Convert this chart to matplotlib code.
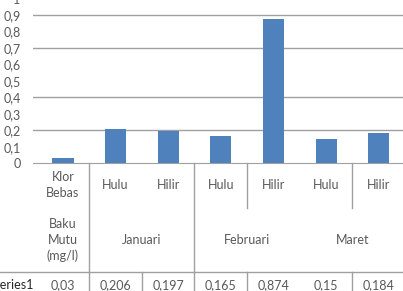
import numpy as np
import matplotlib.pyplot as plt
from matplotlib.lines import Line2D

# chart data
row1_labels = ['Klor\nBebas', 'Hulu', 'Hilir', 'Hulu', 'Hilir', 'Hulu', 'Hilir']
row2_labels = ['Baku\nMutu\n(mg/l)', 'Januari', 'Februari', 'Maret']
series_name = 'Series1'
values = [0.03, 0.206, 0.197, 0.165, 0.874, 0.15, 0.184]
value_text = ['0,03', '0,206', '0,197', '0,165', '0,874', '0,15', '0,184']
yticks = np.round(np.arange(0, 1.01, 0.1), 1)
ytick_labels = ['0' if t == 0 else ('1' if t == 1 else ('%.1f' % t).replace('.', ',')) for t in yticks]
grid_levels = [0.2, 0.4, 0.7, 0.9]

W, H = 403, 291
txt = '#595959'
line_c = '#a0a0a0'
fs = 9
plt.rcParams['font.family'] = ['Lato', 'DejaVu Sans']

fig = plt.figure(figsize=(W / 100, H / 100), dpi=100)
ax = fig.add_axes([33 / W, (H - 163.3) / H, (405 - 33) / W, 164.8 / H])

x = np.arange(len(values)) + 0.5
ax.bar(x, values, width=0.4, color='#4f81bd', zorder=3)
ax.set_xlim(-0.07, len(values))
ax.set_ylim(0, 1)
for g in grid_levels:
    ax.axhline(g, color=line_c, lw=1, zorder=1)

ax.set_yticks(yticks)
ax.set_yticklabels(ytick_labels, fontsize=fs, color=txt)
ax.tick_params(axis='y', length=0, pad=9)
ax.set_xticks([])
for s in ['top', 'right', 'left']:
    ax.spines[s].set_visible(False)
ax.spines['bottom'].set_color(line_c)

def fy(py):
    return 1 - py / H

def fx(dx):
    # data x -> figure fraction
    return (33 + (dx + 0.07) * 52.6) / W

# table lines
lines = [
    (1, 163, 272), (3, 163, 272), (4, 163, 208), (6, 163, 208),
    (1, 272, 300), (2, 272, 300), (3, 272, 300), (4, 272, 300), (6, 272, 300),
]
for dx, y0, y1 in lines:
    fig.add_artist(Line2D([fx(dx), fx(dx)], [fy(y0), fy(y1)], color=line_c, lw=1))
fig.add_artist(Line2D([0, 1], [fy(272), fy(272)], color=line_c, lw=1))

# category labels
for i, lab in enumerate(row1_labels):
    fig.text(fx(x[i]), fy(185), lab, ha='center', va='center', fontsize=fs,
             color=txt, linespacing=1.4)
group_x = [x[0], 2, 4, 6]
for gx, lab in zip(group_x, row2_labels):
    fig.text(fx(gx), fy(240), lab, ha='center', va='center', fontsize=fs,
             color=txt, linespacing=1.4)

# data row
fig.text(34 / W, fy(285), series_name, ha='right', va='center', fontsize=fs, color='#262626')
for i, v in enumerate(value_text):
    fig.text(fx(x[i]), fy(285), v, ha='center', va='center', fontsize=fs, color=txt)

fig.savefig('out.png', dpi=100)
